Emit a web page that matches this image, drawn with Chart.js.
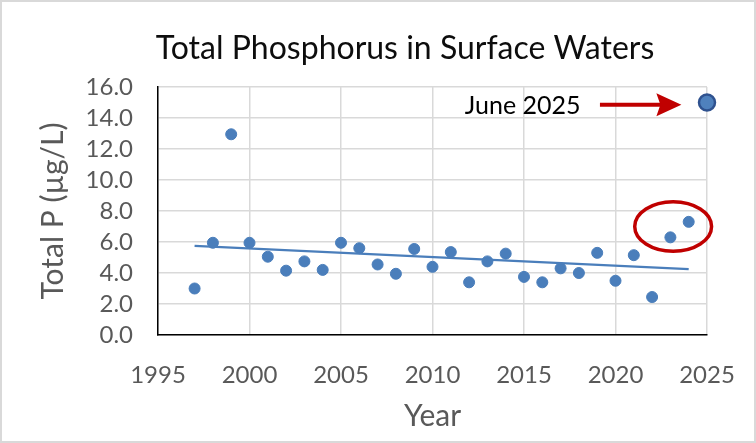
<!DOCTYPE html>
<html>
<head>
<meta charset="utf-8">
<script src="https://cdn.jsdelivr.net/npm/chart.js@4.4.1/dist/chart.umd.min.js"></script>
<style>
  html, body { margin: 0; padding: 0; background: #fff; }
  #wrap { width: 756px; height: 443px; }
</style>
</head>
<body>
<div id="wrap"><canvas id="grafico" width="756" height="443"></canvas></div>
<script>
// valores
const anos = [1997, 1998, 1999, 2000, 2001, 2002, 2003, 2004, 2005, 2006, 2007, 2008, 2009, 2010,
              2011, 2012, 2013, 2014, 2015, 2016, 2017, 2018, 2019, 2020, 2021, 2022, 2023, 2024];
const fosforo = [3.0, 5.95, 12.95, 5.95, 5.05, 4.15, 4.75, 4.2, 5.95, 5.6, 4.55, 3.95, 5.55, 4.4,
                 5.35, 3.4, 4.75, 5.25, 3.75, 3.4, 4.3, 4.0, 5.3, 3.5, 5.15, 2.45, 6.3, 7.3];
const junhoAno = [2025];
const junhoValor = [15.0];
const tendenciaAnos = [1997, 2024];
const tendenciaValores = [5.75, 4.25];
const ticksX = [1995, 2000, 2005, 2010, 2015, 2020, 2025];
const ticksY = [0, 2, 4, 6, 8, 10, 12, 14, 16];

const titulo = 'Total Phosphorus in Surface Waters';
const tituloY = 'Total P (µg/L)';
const tituloX = 'Year';
const rotulo = 'June 2025';

const AZUL = '#4A7EBB';
const VERMELHO = '#C00000';
const CINZA = '#595959';

// posição das anotações (em unidades dos eixos)
const marcas = {
  elipse: { x: 2023.15, y: 7.0, rx: 2.1, ry: 1.6 },
  seta: { x0: 2019.15, x1: 2023.6, y: 14.85 },
  texto: { x: 2014.93, y: 14.25 }
};

// título, moldura e anotações desenhados à mão
const extras = {
  id: 'extras',
  beforeDraw(chart) {
    const c = chart.ctx;
    c.save();
    c.fillStyle = '#fff';
    c.fillRect(0, 0, chart.width, chart.height);
    c.restore();
  },
  afterDatasetsDraw(chart) {
    const c = chart.ctx;
    const sx = chart.scales.x, sy = chart.scales.y;
    c.save();
    // elipse vermelha
    const e = marcas.elipse;
    const cx = sx.getPixelForValue(e.x), cy = sy.getPixelForValue(e.y);
    const rx = sx.getPixelForValue(e.x + e.rx) - cx;
    const ry = cy - sy.getPixelForValue(e.y + e.ry);
    c.strokeStyle = VERMELHO;
    c.lineWidth = 3.5;
    c.beginPath();
    c.ellipse(cx, cy, rx, ry, 0, 0, Math.PI * 2);
    c.stroke();
    // seta
    const s = marcas.seta;
    const ax0 = sx.getPixelForValue(s.x0), ax1 = sx.getPixelForValue(s.x1);
    const ay = sy.getPixelForValue(s.y);
    c.fillStyle = VERMELHO;
    c.lineWidth = 4;
    c.beginPath();
    c.moveTo(ax0, ay);
    c.lineTo(ax1 - 18, ay);
    c.stroke();
    c.beginPath();
    c.moveTo(ax1, ay);
    c.lineTo(ax1 - 25, ay - 11.5);
    c.lineTo(ax1 - 21, ay);
    c.lineTo(ax1 - 25, ay + 11.5);
    c.closePath();
    c.fill();
    // texto
    const t = marcas.texto;
    c.fillStyle = '#000';
    c.font = '25px Lato';
    c.textAlign = 'center';
    c.textBaseline = 'alphabetic';
    c.fillText(rotulo, sx.getPixelForValue(t.x), sy.getPixelForValue(t.y));
    c.restore();
  },
  afterDraw(chart) {
    const c = chart.ctx;
    c.save();
    c.fillStyle = '#0d0d0d';
    c.font = '32px Lato';
    c.textAlign = 'center';
    c.textBaseline = 'alphabetic';
    c.fillText(titulo, 405, 59);
    c.strokeStyle = '#D9D9D9';
    c.lineWidth = 2;
    c.strokeRect(1, 1, chart.width - 2, chart.height - 2);
    c.restore();
  }
};

function gerarGrafico() {
  Chart.defaults.font.family = 'Lato';
  const ctx = document.getElementById('grafico').getContext('2d');
  new Chart(ctx, {
    type: 'scatter',
    data: {
      datasets: [
        {
          label: 'Trend',
          type: 'line',
          data: tendenciaAnos.map((a, i) => ({ x: a, y: tendenciaValores[i] })),
          borderColor: AZUL,
          borderWidth: 2.5,
          pointRadius: 0,
          fill: false,
          order: 0
        },
        {
          label: 'Total P',
          data: anos.map((a, i) => ({ x: a, y: fosforo[i] })),
          backgroundColor: AZUL,
          borderColor: AZUL,
          pointRadius: 5.5,
          pointHoverRadius: 5.5,
          clip: false,
          order: 1
        },
        {
          label: 'June 2025',
          data: junhoAno.map((a, i) => ({ x: a, y: junhoValor[i] })),
          backgroundColor: '#4F81BD',
          borderColor: '#2F528F',
          borderWidth: 2.5,
          pointRadius: 8,
          clip: false,
          order: 1
        }
      ]
    },
    options: {
      responsive: false,
      animation: false,
      events: [],
      layout: { padding: { top: 87, right: 49, left: 0, bottom: 0 } },
      plugins: {
        legend: { display: false },
        title: { display: false },
        tooltip: { enabled: false }
      },
      scales: {
        x: {
          type: 'linear',
          min: 1995,
          max: 2025,
          afterBuildTicks: (s) => { s.ticks = ticksX.map(v => ({ value: v })); },
          afterFit: (s) => { s.height = 108; s.paddingLeft = 0; s.paddingRight = 0; },
          ticks: {
            color: CINZA,
            font: { size: 24 },
            padding: 26,
            maxRotation: 0,
            autoSkip: false,
            callback: (v) => String(v)
          },
          grid: { color: '#D9D9D9', lineWidth: 1.5, drawTicks: false },
          border: { color: '#000', width: 1.5 },
          title: {
            display: true,
            text: tituloX,
            color: CINZA,
            font: { size: 30 },
            padding: { top: 0, bottom: 9 }
          }
        },
        y: {
          min: 0,
          max: 16,
          afterBuildTicks: (s) => { s.ticks = ticksY.map(v => ({ value: v })); },
          afterFit: (s) => { s.width = 158; s.paddingTop = 0; s.paddingBottom = 0; },
          ticks: {
            color: CINZA,
            font: { size: 24 },
            padding: 25,
            autoSkip: false,
            callback: (v) => v.toFixed(1)
          },
          grid: { color: '#D9D9D9', lineWidth: 1.5, drawTicks: false },
          border: { color: '#000', width: 1.5 },
          title: {
            display: true,
            text: tituloY,
            color: CINZA,
            font: { size: 30 },
            padding: { top: 35, bottom: 0 }
          }
        }
      }
    },
    plugins: [extras]
  });
}

document.fonts.load('24px Lato').then(gerarGrafico, gerarGrafico);
</script>
</body>
</html>
